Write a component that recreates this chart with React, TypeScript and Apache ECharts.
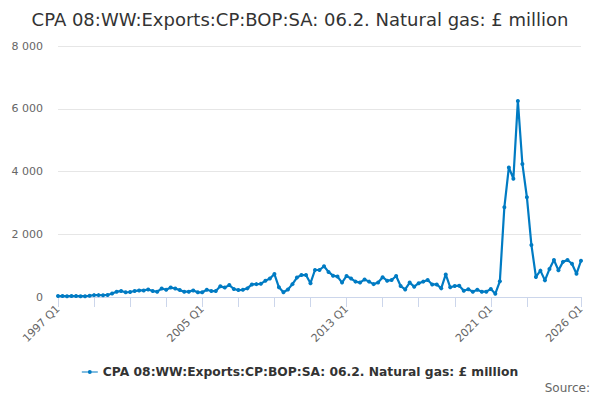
import { useEffect, useRef } from "react";
import * as echarts from "echarts";

const TITLE = "CPA 08:WW:Exports:CP:BOP:SA: 06.2. Natural gas: £ million";
const SERIES_NAME = "CPA 08:WW:Exports:CP:BOP:SA: 06.2. Natural gas: £ million";

const startYear = 1997;
const quarterCount = 117; // 1997 Q1 .. 2026 Q1
const categories: string[] = [];
for (let i = 0; i < quarterCount; i++) {
  categories.push(`${startYear + Math.floor(i / 4)} Q${(i % 4) + 1}`);
}

// values, £ million
const values1997to2002 = [
  30, 30, 25, 30, 30, 25, 25, 40, 60, 60, 55, 65, 110, 170, 190, 150, 160, 190,
  210, 210, 240, 190, 170, 270, 230,
];
const values2003to2007 = [
  300, 270, 220, 170, 170, 210, 150, 150, 230, 190, 190, 340, 300, 380, 255,
  220, 230, 275, 400, 410,
];
const values2008to2012 = [
  420, 520, 590, 730, 310, 150, 240, 410, 620, 700, 700, 440, 860, 860, 980,
  800, 680,
];
const values2012to2017 = [
  650, 460, 670, 590, 490, 460, 560, 490, 410, 460, 630, 520, 540, 670, 350,
  240, 460, 330, 440,
];
const values2017to2021 = [
  490, 540, 400, 400, 275, 720, 310, 350, 360, 200, 245, 170, 230, 170, 170,
  255, 105, 500,
];
const values2021to2026 = [
  2860, 4130, 3770, 6250, 4240, 3180, 1660, 640, 840, 530, 890, 1180, 850, 1120,
  1180, 1060, 740, 1155,
];
const seriesValues = [
  ...values1997to2002,
  ...values2003to2007,
  ...values2008to2012,
  ...values2012to2017,
  ...values2017to2021,
  ...values2021to2026,
];

const yMin = 0;
const yMax = 8000;
const yStep = 2000;

const FONT = "'DejaVu Sans', sans-serif";
const LINE_COLOR = "#007bc3";

export default function App() {
  const chartRef = useRef<HTMLDivElement>(null);

  useEffect(() => {
    if (!chartRef.current) return;
    const chart = echarts.init(chartRef.current, undefined, { renderer: "svg" });
    const last = categories.length - 1;

    chart.setOption({
      animation: false,
      textStyle: { fontFamily: FONT },
      title: {
        text: TITLE,
        left: "center",
        top: 5,
        textStyle: { fontFamily: FONT, fontSize: 18, fontWeight: "normal", color: "#333333" },
      },
      legend: {
        data: [SERIES_NAME],
        bottom: 17,
        left: "center",
        itemWidth: 16,
        itemHeight: 4,
        icon: "path://M0,1.5 L16,1.5 L16,2.5 L0,2.5 Z M8,0 A2,2 0 1 1 8,4 A2,2 0 1 1 8,0 Z",
        itemStyle: { color: LINE_COLOR },
        textStyle: { fontFamily: FONT, fontSize: 12.3, fontWeight: "bold", color: "#333333" },
      },
      graphic: [
        {
          type: "text",
          right: 10,
          bottom: 6,
          style: { text: "Source:", fontFamily: FONT, fontSize: 12, fill: "#666666" },
        },
      ],
      grid: { left: 58, right: 19, top: 46, bottom: 103 },
      xAxis: {
        type: "category",
        data: categories,
        boundaryGap: false,
        axisLine: { lineStyle: { color: "#ccd6eb" } },
        axisTick: {
          show: true,
          length: 10,
          lineStyle: { color: "#ccd6eb" },
          interval: (i: number) => (i % 8 === 0 && i <= 104) || i === last,
        },
        axisLabel: {
          interval: (i: number) => i % 32 === 0 || i === last,
          rotate: 45,
          margin: 10,
          fontFamily: FONT,
          fontSize: 11,
          color: "#666666",
        },
      },
      yAxis: {
        type: "value",
        min: yMin,
        max: yMax,
        interval: yStep,
        axisLine: { show: false },
        axisTick: { show: false },
        splitLine: { lineStyle: { color: "#e6e6e6" } },
        axisLabel: {
          margin: 15,
          fontFamily: FONT,
          fontSize: 11,
          color: "#666666",
          formatter: (v: number) => String(v).replace(/\B(?=(\d{3})+(?!\d))/g, " "),
        },
      },
      series: [
        {
          name: SERIES_NAME,
          type: "line",
          data: seriesValues,
          symbol: "circle",
          symbolSize: 4,
          showAllSymbol: true,
          lineStyle: { color: LINE_COLOR, width: 2.2 },
          itemStyle: { color: LINE_COLOR },
        },
      ],
    });

    return () => chart.dispose();
  }, []);

  return <div ref={chartRef} style={{ width: 600, height: 400, margin: -8 }} />;
}
